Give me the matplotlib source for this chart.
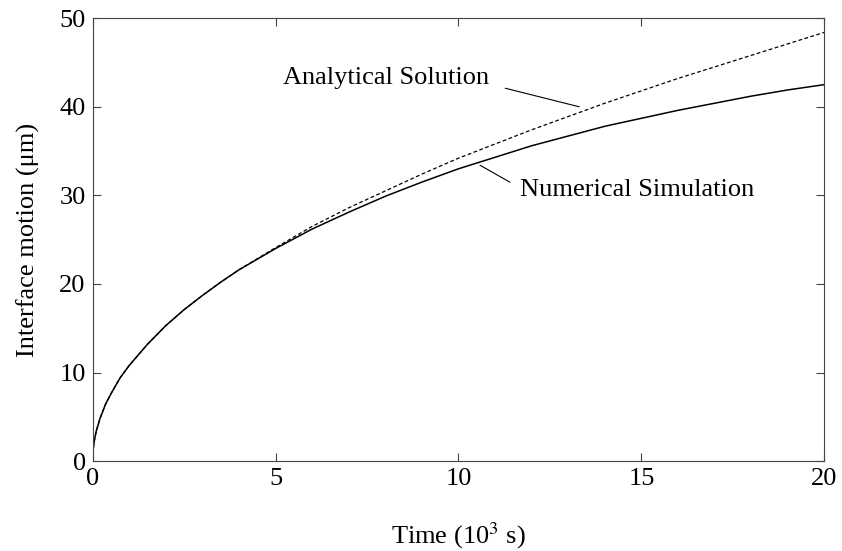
import matplotlib
matplotlib.use('Agg')
import matplotlib.pyplot as plt

# values (time in 10^3 s, motion in um)
time = [0, 0.02, 0.05, 0.1, 0.2, 0.35, 0.5, 0.75, 1, 1.5, 2, 2.5, 3, 3.5, 4,
        5, 6, 7, 8, 9, 10, 11, 12, 13, 14, 15, 16, 17, 18, 19, 20]
analytical = [0.8, 1.5, 2.4, 3.4, 4.8, 6.4, 7.6, 9.4, 10.8, 13.2, 15.3, 17.1, 18.7, 20.2, 21.6,
              24.1, 26.5, 28.6, 30.5, 32.4, 34.2, 35.8, 37.4, 38.9, 40.4, 41.8, 43.2, 44.5, 45.8, 47.1, 48.4]
numerical = [0.8, 1.5, 2.4, 3.4, 4.8, 6.4, 7.6, 9.4, 10.8, 13.2, 15.3, 17.1, 18.7, 20.2, 21.6,
             24.0, 26.2, 28.1, 29.9, 31.5, 33.0, 34.3, 35.6, 36.7, 37.8, 38.7, 39.6, 40.4, 41.2, 41.9, 42.5]

xticks = [0, 5, 10, 15, 20]
yticks = [0, 10, 20, 30, 40, 50]

plt.rcParams['font.family'] = ['Liberation Serif', 'DejaVu Serif']
plt.rcParams['mathtext.fontset'] = 'stix'

fig = plt.figure(figsize=(8.42, 5.51), dpi=100)
ax = fig.add_axes([0.110, 0.163, 0.869, 0.804])

ax.plot(time, numerical, color='black', lw=1.1, solid_joinstyle='round')
ax.plot(time, analytical, color='black', lw=0.9, dashes=(3, 2))

ax.set_xlim(0, 20)
ax.set_ylim(0, 50)
ax.set_xticks(xticks)
ax.set_yticks(yticks)
ax.tick_params(direction='in', top=True, right=True, length=6, width=0.8,
               labelsize=19, pad=5, color='#444444')
for s in ax.spines.values():
    s.set_linewidth(0.8)
    s.set_color('#444444')

ax.set_xlabel('Time (10$^3$ s)', fontsize=19, labelpad=22)
ax.set_ylabel('Interface motion (\u03bcm)', fontsize=19, labelpad=14)

# annotations with pointer lines
ax.annotate('Analytical Solution', xy=(13.3, 40.0), xytext=(5.2, 43.3),
            fontsize=19, va='center', ha='left',
            arrowprops=dict(arrowstyle='-', lw=0.8, color='black',
                            shrinkA=10, shrinkB=0,
                            relpos=(1.0, 0.2)))
ax.annotate('Numerical Simulation', xy=(10.59, 33.4), xytext=(11.68, 30.6),
            fontsize=19, va='center', ha='left',
            arrowprops=dict(arrowstyle='-', lw=0.8, color='black',
                            shrinkA=6, shrinkB=0,
                            relpos=(0.0, 0.6)))

fig.savefig('out.png', dpi=100)
